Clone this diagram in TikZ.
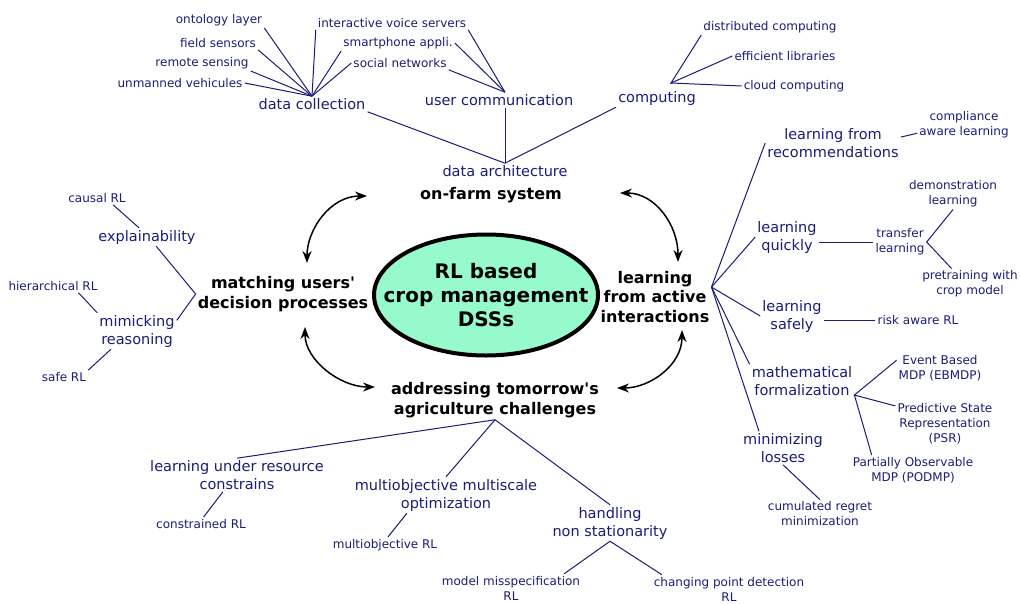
\documentclass[tikz,border=0pt]{standalone}
\usepackage{fontspec}
\setmainfont{DejaVu Sans}
\usetikzlibrary{shapes.geometric,arrows.meta}
\definecolor{dsblue}{RGB}{28,28,120}
\definecolor{dssmint}{RGB}{150,250,205}

\begin{document}
\begin{tikzpicture}[x=1pt, y=-1pt,
	leaf/.style={font=\fontsize{12}{15}\selectfont, text=dsblue, align=center, inner sep=2pt},
	branch/.style={font=\fontsize{14.5}{18}\selectfont, text=dsblue, align=center, inner sep=2pt},
	theme/.style={font=\fontsize{16}{19.5}\selectfont\bfseries, align=center, inner sep=2pt},
	core/.style={ellipse, draw, line width=4pt, fill=dssmint, minimum width=224, minimum height=121},
	coretext/.style={font=\fontsize{20}{24}\selectfont\bfseries, align=center, inner sep=0pt},
	link/.style={draw=dsblue, line width=1pt},
	loopline/.style={draw=black, line width=1.5pt, {Stealth[length=12pt,width=9pt]}-{Stealth[length=12pt,width=9pt]}}]
	\path[fill=white] (0,0) rectangle (1020,603);
	\useasboundingbox (0,0) rectangle (1020,603);

	\node[core] (dss) at (486,295) {};
	\node[coretext] at (dss.center) {RL based\\crop management\\DSSs};

	\node[theme] (ofs) at (491,195) {on-farm system};
	\node[theme] (mud) at (283,294) {matching users\textquotesingle\\decision processes};
	\node[theme] (lfai) at (655,297) {learning\\from active\\interactions};
	\node[theme] (atc) at (495,400) {addressing tomorrow\textquotesingle s\\agriculture challenges};

	\node[branch] (da) at (505,171) {data architecture};
	\node[branch] (dc) at (312,104) {data collection};
	\node[branch] (uc) at (499,100) {user communication};
	\node[branch] (comp) at (657,98) {computing};
	\node[leaf] (ol) at (219,20) {ontology layer};
	\node[leaf] (fs) at (218,43) {field sensors};
	\node[leaf] (rs) at (202,63) {remote sensing};
	\node[leaf] (uv) at (180,83) {unmanned vehicules};
	\node[leaf] (ivs) at (392,23) {interactive voice servers};
	\node[leaf] (sa) at (398,43) {smartphone appli.};
	\node[leaf] (sn) at (400,63) {social networks};
	\node[leaf] (dcp) at (770,27) {distributed computing};
	\node[leaf] (el) at (785,56) {efficient libraries};
	\node[leaf] (cc) at (794,86) {cloud computing};

	\node[branch] (expl) at (147,237) {explainability};
	\node[branch] (mr) at (137,331) {mimicking\\reasoning};
	\node[leaf] (caus) at (97,198) {causal RL};
	\node[leaf] (hrl) at (53,286) {hierarchical RL};
	\node[leaf] (srl) at (64,377) {safe RL};

	\node[branch] (lfr) at (833,143) {learning from\\recommendations};
	\node[branch] (lq) at (787,237) {learning\\quickly};
	\node[branch] (ls) at (792,316) {learning\\safely};
	\node[branch] (mf) at (802,381) {mathematical\\formalization};
	\node[branch] (ml) at (783,448) {minimizing\\losses};
	\node[leaf] (cal) at (964,125) {compliance\\aware learning};
	\node[leaf] (dl) at (953,194) {demonstration\\learning};
	\node[leaf] (tl) at (900,242) {transfer\\learning};
	\node[leaf] (ptm) at (970,284) {pretraining with\\crop model};
	\node[leaf] (rar) at (918,320) {risk aware RL};
	\node[leaf] (ebm) at (940,368) {Event Based\\MDP (EBMDP)};
	\node[leaf] (psr) at (945,424) {Predictive State\\Representation\\(PSR)};
	\node[leaf] (pom) at (913,470) {Partially Observable\\MDP (PODMP)};
	\node[leaf] (crm) at (820,514) {cumulated regret\\minimization};

	\node[branch] (lurc) at (237,475) {learning under resource\\constrains};
	\node[branch] (mmo) at (446,495) {multiobjective multiscale\\optimization};
	\node[branch] (hns) at (610,523) {handling\\non stationarity};
	\node[leaf] (conrl) at (201,524) {constrained RL};
	\node[leaf] (morl) at (385,545) {multiobjective RL};
	\node[leaf] (mms) at (511,588) {model misspecification\\RL};
	\node[leaf] (cpd) at (729,589) {changing point detection\\RL};

	\coordinate (uch) at (uc.north -| da.north);
	\coordinate (comph) at (671,83);
	\draw[link] (ol.south east) -- (dc.north);
	\draw[link] (fs.south east) -- (dc.north);
	\draw[link] (rs.south east) -- (dc.north);
	\draw[link] (uv.east) -- (dc.north);
	\draw[link] (ivs.south west) -- (dc.north);
	\draw[link] (sa.south west) -- (dc.north);
	\draw[link] (sn.west) -- (dc.north);
	\draw[link] (ivs.south east) -- (uch);
	\draw[link] (sa.east) -- (uch);
	\draw[link] (sn.south east) -- (uch);
	\draw[link] (dc.south east) -- (da.north);
	\draw[link] (uc.south -| da.north) -- (da.north);
	\draw[link] (comp.south west) -- (da.north);
	\draw[link] (dcp.south west) -- (comph) -- (el.west);
	\draw[link] (cc.west) -- (comph);

	\draw[link] (caus.-23) -- (expl.131);
	\draw[link] (expl.-45) -- (mud.west) -- (mr.15);
	\draw[link] (hrl.-15) -- (mr.north west);
	\draw[link] (srl.north east) -- (mr.-145);

	\draw[link] (lfai.10) -- (lfr.west);
	\draw[link] (lfai.10) -- (lq.west);
	\draw[link] (lfai.10) -- (ls.west);
	\draw[link] (lfai.10) -- (mf.north west);
	\draw[link] (lfai.10) -- (ml.145);
	\draw[link] (lfr.5) -- (cal.-170);
	\draw[link] (lq.east |- tl.west) -- (tl.west);
	\draw[link] (dl.south) -- (tl.east) -- (ptm.140);
	\draw[link] (ls.east |- rar.west) -- (rar.west);
	\draw[link] (ebm.170) -- (mf.-15) -- (psr.160);
	\draw[link] (mf.-15) -- (pom.160);
	\draw[link] (ml.south) -- (crm.north);

	\draw[link] (lurc.north) -- (atc.south) -- (hns.north);
	\draw[link] (atc.south) -- (mmo.north);
	\draw[link] (lurc.-130) -- (conrl.70);
	\draw[link] (mmo.-155) -- (morl.70);
	\draw[link] (mms.15) -- (hns.south) -- (cpd.168);

	\coordinate (ofsw) at (367,196);
	\coordinate (mudn) at (307,263);
	\coordinate (muds) at (305,327);
	\coordinate (atcw) at (375,387);
	\coordinate (ofse) at (620,193);
	\coordinate (lfain) at (678,262);
	\coordinate (lfais) at (682,330);
	\coordinate (atce) at (617,388);
	\draw[loopline] (ofsw) .. controls (330,196) and (307,230) .. (mudn);
	\draw[loopline] (muds) .. controls (305,360) and (340,387) .. (atcw);
	\draw[loopline] (ofse) .. controls (655,193) and (678,225) .. (lfain);
	\draw[loopline] (lfais) .. controls (682,365) and (650,388) .. (atce);
\end{tikzpicture}
\end{document}
